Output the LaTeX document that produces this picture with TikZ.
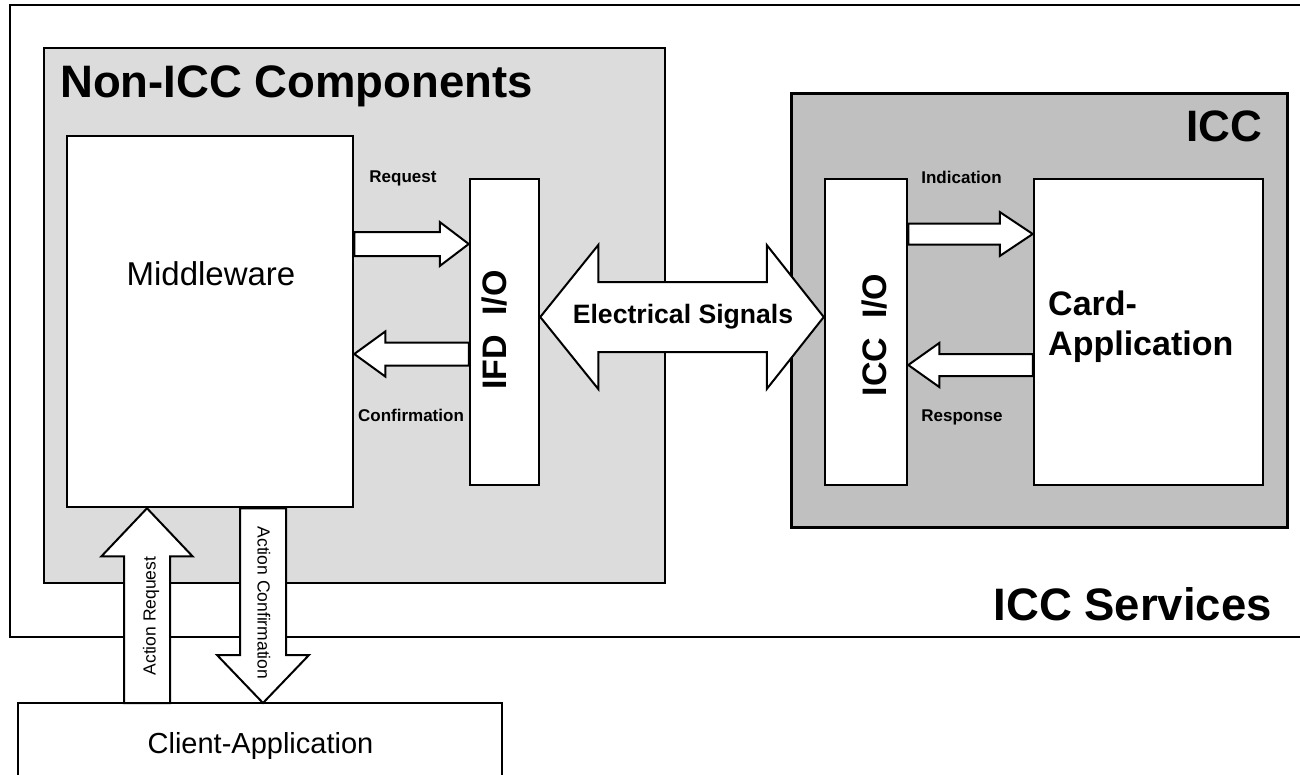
\documentclass[tikz,border=0pt]{standalone}
\usepackage{fontspec}
\setmainfont{Liberation Sans}
\usetikzlibrary{fit,calc}

\definecolor{paleshade}{HTML}{DCDCDC}
\definecolor{iccshade}{HTML}{C0C0C0}

\newcommand\fsz[1]{\fontsize{#1bp}{1.2\dimexpr#1bp\relax}\selectfont}

\tikzset{
  px/.style={x=1bp,y=-1bp},
  frame/.style={draw=black,line width=1.5bp},
  region/.style={draw=black,line width=2.5bp,inner sep=0pt},
  unit/.style={draw=black,fill=white,line width=2.5bp,inner sep=0pt},
  blk/.style={draw=black,fill=white,line width=2bp,line join=miter},
  title/.style={font=\fsz{45.5}\bfseries,inner sep=0pt},
  lbl/.style={font=\fsz{17}\bfseries,inner sep=0pt},
  vlbl/.style={font=\fsz{17.5},inner sep=0pt},
}

\begin{document}
\begin{tikzpicture}[px]
\useasboundingbox (0,0) rectangle (1300,774);
\fill[white] (0,0) rectangle (1300,774);

% outer frame, open to the right edge
\draw[frame] (1300,5) -- (10,5) -- (10,637) -- (1300,637);

% regions
\node[region,fill=paleshade,fit={(44,48) (665,583)}] (nonicc) {};
\node[region,fill=iccshade,line width=3bp,fit={(791,93) (1287,527)}] (icc) {};

% functional units
\node[unit,fit={(67,136) (353,507)}] (mw) {};
\node[unit,fit={(470,179) (539,485)}] (ifd) {};
\node[unit,fit={(825,179) (907,485)}] (iccio) {};
\node[unit,fit={(1034,179) (1263,485)}] (card) {};

% client application, cut by the lower edge
\draw[unit] (18,780) -- (18,703) coordinate (clientnw) -- (502,703) coordinate (clientne) -- (502,780);
\coordinate (client) at (260,703);

% Request: middleware -> IFD I/O
\path (mw.east |- 0,244) coordinate (rqa) (ifd.west |- 0,244) coordinate (rqb);
\draw[blk] ($(rqa)+(0,-12)$) -- ($(rqb)+(-29,-12)$) -- ($(rqb)+(-29,-22)$) -- (rqb)
  -- ($(rqb)+(-29,22)$) -- ($(rqb)+(-29,12)$) -- ($(rqa)+(0,12)$) -- cycle;

% Confirmation: IFD I/O -> middleware
\path (ifd.west |- 0,354) coordinate (cfa) (mw.east |- 0,354) coordinate (cfb);
\draw[blk] ($(cfa)+(0,-11.5)$) -- ($(cfb)+(31,-11.5)$) -- ($(cfb)+(31,-22.5)$) -- (cfb)
  -- ($(cfb)+(31,22.5)$) -- ($(cfb)+(31,11.5)$) -- ($(cfa)+(0,11.5)$) -- cycle;

% Electrical Signals: IFD I/O <-> ICC I/O
\path (ifd.east |- 0,317) coordinate (esa) (iccio.west |- 0,317) coordinate (esb);
\draw[blk] (esa) -- ($(esa)+(58,-72)$) -- ($(esa)+(58,-35)$) -- ($(esb)+(-57,-35)$)
  -- ($(esb)+(-57,-72)$) -- (esb) -- ($(esb)+(-57,72)$) -- ($(esb)+(-57,35)$)
  -- ($(esa)+(58,35)$) -- ($(esa)+(58,72)$) -- cycle;

% Indication: ICC I/O -> card application
\path (iccio.east |- 0,234) coordinate (ina) (card.west |- 0,234) coordinate (inb);
\draw[blk] ($(ina)+(0,-10.5)$) -- ($(inb)+(-33,-10.5)$) -- ($(inb)+(-33,-22)$) -- (inb)
  -- ($(inb)+(-33,22)$) -- ($(inb)+(-33,10.5)$) -- ($(ina)+(0,10.5)$) -- cycle;

% Response: card application -> ICC I/O
\path (card.west |- 0,365) coordinate (rsa) (iccio.east |- 0,365) coordinate (rsb);
\draw[blk] ($(rsa)+(0,-11)$) -- ($(rsb)+(31,-11)$) -- ($(rsb)+(31,-22)$) -- (rsb)
  -- ($(rsb)+(31,22)$) -- ($(rsb)+(31,11)$) -- ($(rsa)+(0,11)$) -- cycle;

% Action Request: client -> middleware
\path (clientnw -| 147,0) coordinate (ara) (mw.south -| 147,0) coordinate (arb);
\draw[blk] ($(ara)+(-23,0)$) -- ($(arb)+(-23,48)$) -- ($(arb)+(-45.5,48)$) -- (arb)
  -- ($(arb)+(45.5,48)$) -- ($(arb)+(23,48)$) -- ($(ara)+(23,0)$) -- cycle;

% Action Confirmation: middleware -> client
\path (mw.south -| 263,0) coordinate (aca) (clientnw -| 263,0) coordinate (acb);
\draw[blk] ($(aca)+(-23,0)$) -- ($(acb)+(-23,-48)$) -- ($(acb)+(-46,-48)$) -- (acb)
  -- ($(acb)+(46,-48)$) -- ($(acb)+(23,-48)$) -- ($(aca)+(23,0)$) -- cycle;

% titles
\node[title,anchor=base west] (tnon) at (60,97) {Non-ICC Components};
\node[title,font=\fsz{44}\bfseries,anchor=base east] (ticc) at (1262,141) {ICC};
\node[title,anchor=base east] (tsvc) at (1272,620) {ICC Services};

% unit texts
\node[font=\fsz{33},inner sep=0pt,anchor=base] (tmw) at (211,285) {Middleware};
\node[font=\fsz{29},inner sep=0pt,anchor=base] (tcl) at (260.5,753) {Client-Application};
\node[font=\fsz{34}\bfseries,inner sep=0pt,anchor=base west] (tcard1) at (1048,315) {Card-};
\node[font=\fsz{34}\bfseries,inner sep=0pt,anchor=base west] (tcard2) at (1048,355) {Application};
\node[font=\fsz{34}\bfseries,inner sep=0pt,anchor=base,rotate=90] (tifd) at (506,330) {IFD\ \ I/O};
\node[font=\fsz{34}\bfseries,inner sep=0pt,anchor=base,rotate=90] (ticcio) at (886,335) {ICC\ \ I/O};
\node[font=\fsz{26.6}\bfseries,inner sep=0pt,anchor=base] (tes) at (683,323) {Electrical Signals};

% connector labels
\node[lbl,anchor=base] at (403,182) {Request};
\node[lbl,anchor=base] at (411,421) {Confirmation};
\node[lbl,anchor=base] at (961.5,183) {Indication};
\node[lbl,anchor=base] at (962,421) {Response};
\node[vlbl,anchor=base,rotate=90] at (155.5,616) {Action Request};
\node[vlbl,anchor=base,rotate=-90] at (257.5,603) {Action Confirmation};
\end{tikzpicture}
\end{document}
